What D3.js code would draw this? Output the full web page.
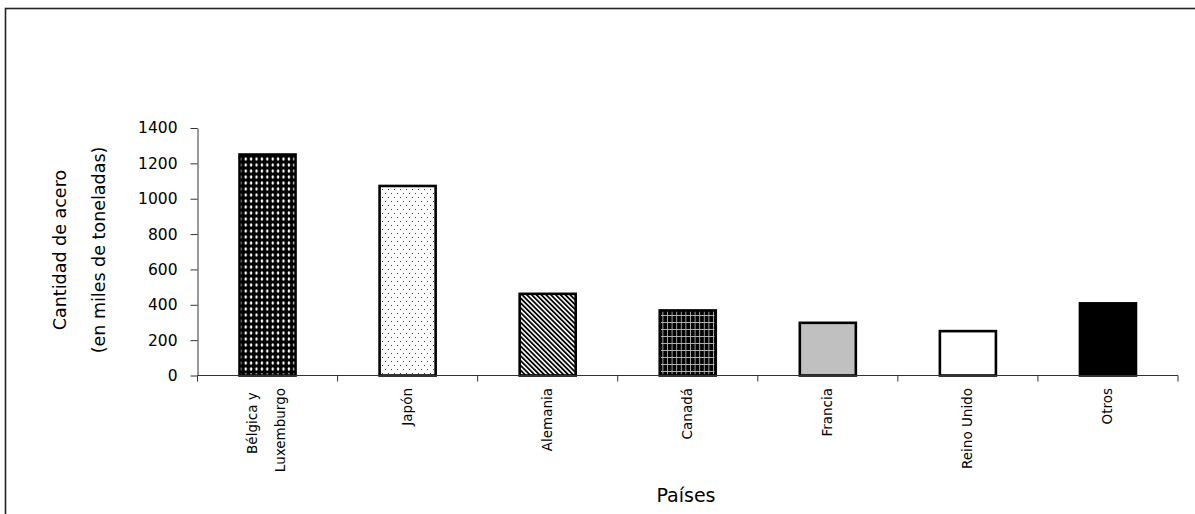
<!DOCTYPE html>
<html>
<head>
<meta charset="utf-8">
<title>Cantidad de acero por país</title>
<script src="https://d3js.org/d3.v7.min.js"></script>
<style>
  body { margin: 0; background: #fff; }
  svg text { font-family: "DejaVu Sans", sans-serif; fill: #000; }
</style>
</head>
<body>
<div id="chart"></div>
<script>
// data
var countries = ["Bélgica y Luxemburgo", "Japón", "Alemania", "Canadá", "Francia", "Reino Unido", "Otros"];
var labelLines = [["Bélgica y ", "Luxemburgo"], ["Japón"], ["Alemania"], ["Canadá"], ["Francia"], ["Reino Unido"], ["Otros"]];
var values = [1250, 1072, 462, 368, 298, 251, 408];
var yTicks = [0, 200, 400, 600, 800, 1000, 1200, 1400];
var fills = ["url(#diamonds)", "url(#dots)", "url(#stripes)", "url(#grid)", "#c0c0c0", "#ffffff", "#000000"];

var width = 1195, height = 514;

var svg = d3.select("#chart").append("svg")
    .attr("width", width)
    .attr("height", height);

// patterns for the bars
var defs = svg.append("defs");

var pd = defs.append("pattern").attr("id", "diamonds").attr("patternUnits", "userSpaceOnUse")
    .attr("width", 5.4).attr("height", 6);
pd.append("rect").attr("width", 5.4).attr("height", 6).attr("fill", "#000");
pd.append("polygon").attr("points", "2.7,0.8 4.1,3 2.7,5.2 1.3,3").attr("fill", "#fff");

var pdots = defs.append("pattern").attr("id", "dots").attr("patternUnits", "userSpaceOnUse")
    .attr("width", 6).attr("height", 8);
pdots.append("rect").attr("width", 6).attr("height", 8).attr("fill", "#fff");
pdots.append("rect").attr("x", 1).attr("y", 1).attr("width", 1).attr("height", 1).attr("fill", "#444");
pdots.append("rect").attr("x", 4).attr("y", 5).attr("width", 1).attr("height", 1).attr("fill", "#444");

var ps = defs.append("pattern").attr("id", "stripes").attr("patternUnits", "userSpaceOnUse")
    .attr("width", 3.4).attr("height", 10).attr("patternTransform", "rotate(-45)");
ps.append("rect").attr("width", 3.4).attr("height", 10).attr("fill", "#fff");
ps.append("rect").attr("width", 1.8).attr("height", 10).attr("fill", "#000");

var pg = defs.append("pattern").attr("id", "grid").attr("patternUnits", "userSpaceOnUse")
    .attr("width", 4.6).attr("height", 7);
pg.append("rect").attr("width", 4.6).attr("height", 7).attr("fill", "#000");
pg.append("line").attr("x1", 0.5).attr("x2", 0.5).attr("y1", 0).attr("y2", 7).attr("stroke", "#bbb").attr("stroke-width", 0.9);
pg.append("line").attr("x1", 0).attr("x2", 4.6).attr("y1", 0.5).attr("y2", 0.5).attr("stroke", "#bbb").attr("stroke-width", 0.9);

// outer frame (cut off at right and bottom)
svg.append("rect")
    .attr("x", 5.5).attr("y", 8.5)
    .attr("width", 1200).attr("height", 520)
    .attr("fill", "none").attr("stroke", "#222").attr("stroke-width", 1.6);

var x0 = 197.5, x1 = 1178, yBottom = 375.5, yTop = 128;

var x = d3.scaleBand().domain(countries).range([x0, x1]).paddingInner(0.6).paddingOuter(0.3);
var y = d3.scaleLinear().domain([0, 1400]).range([yBottom, yTop]);

// bars
svg.append("g").selectAll("rect")
    .data(countries)
    .enter().append("rect")
    .attr("x", function(d) { return x(d); })
    .attr("y", function(d, i) { return y(values[i]); })
    .attr("width", x.bandwidth())
    .attr("height", function(d, i) { return y(0) - y(values[i]); })
    .attr("fill", function(d, i) { return fills[i]; })
    .attr("stroke", "#000")
    .attr("stroke-width", 2.6);

// y axis
var yAxis = svg.append("g")
    .attr("transform", "translate(" + x0 + ",0)")
    .call(d3.axisLeft(y).tickValues(yTicks).tickFormat(d3.format("d")).tickSize(7).tickPadding(13).tickSizeOuter(0));
yAxis.select(".domain").attr("stroke", "#333");
yAxis.selectAll(".tick line").attr("stroke", "#333");
yAxis.selectAll(".tick text").style("font-size", "15.5px");

// x axis line with ticks on category boundaries
var step = x.step();
var bounds = countries.map(function(d) { return x(d) + x.bandwidth() / 2 - step / 2; });
bounds.push(x1);
svg.append("line")
    .attr("x1", x0).attr("x2", x1).attr("y1", yBottom).attr("y2", yBottom)
    .attr("stroke", "#333");
svg.append("g").selectAll("line")
    .data(bounds)
    .enter().append("line")
    .attr("x1", function(d) { return d; }).attr("x2", function(d) { return d; })
    .attr("y1", yBottom).attr("y2", yBottom + 6)
    .attr("stroke", "#333");

// category labels, rotated
var labels = svg.append("g").selectAll("text")
    .data(countries)
    .enter().append("text")
    .attr("transform", function(d) { return "translate(" + (x(d) + x.bandwidth() / 2) + ",388) rotate(-90)"; })
    .attr("text-anchor", "end")
    .style("font-size", "13.5px")
    .style("white-space", "pre");
labels.each(function(d, i) {
    var lines = labelLines[i];
    var t = d3.select(this);
    if (lines.length === 1) {
        t.append("tspan").attr("x", 0).attr("dy", "4.5").text(lines[0]);
    } else {
        t.append("tspan").attr("x", 0).attr("dy", "-11").text(lines[0]);
        t.append("tspan").attr("x", 0).attr("dy", "28").text(lines[1]);
    }
});

// axis titles
svg.append("text")
    .attr("x", 686).attr("y", 502)
    .attr("text-anchor", "middle")
    .style("font-size", "19px")
    .text("Países");

var yt = svg.append("text")
    .attr("transform", "translate(0,250) rotate(-90)")
    .attr("text-anchor", "middle")
    .style("font-size", "17.5px");
yt.append("tspan").attr("x", 0).attr("y", 66).text("Cantidad de acero");
yt.append("tspan").attr("x", 0).attr("y", 105).text("(en miles de toneladas)");
</script>
</body>
</html>
